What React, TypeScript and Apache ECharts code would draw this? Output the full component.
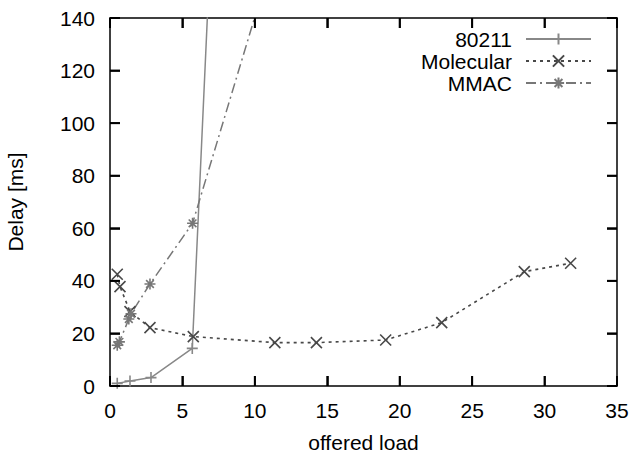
import React, { useEffect, useRef } from "react";
import * as echarts from "echarts";

const seriesNames = ["80211", "Molecular", "MMAC"];

const load80211 = [0.5, 1.38, 2.83, 5.68, 11.4];
const delay80211 = [1.0, 1.9, 3.2, 14.3, 706];

const loadMolecular = [0.5, 0.69, 1.38, 2.76, 5.75, 11.38, 14.25, 19.03, 22.9, 28.6, 31.8];
const delayMolecular = [42.5, 37.8, 28.3, 22.2, 18.8, 16.5, 16.5, 17.5, 24.1, 43.5, 46.7];

const loadMMAC = [0.5, 0.65, 1.3, 1.45, 2.76, 5.7, 11.4];
const delayMMAC = [15.5, 16.8, 25.5, 27.5, 38.8, 61.9, 166];

const xMin = 0, xMax = 35, xStep = 5;
const yMin = 0, yMax = 140, yStep = 20;
const xTicks = [0, 5, 10, 15, 20, 25, 30, 35];
const yTicks = [0, 20, 40, 60, 80, 100, 120, 140];

const FONT = "'Liberation Sans', Arial, Helvetica, sans-serif";
const FS = 21;
const TICK_LEN = 10;
const TICK_W = 2;

const PLUS = "path://M0,-10 L0,10 M-10,0 L10,0";
const CROSS = "path://M-10,-10 L10,10 M-10,10 L10,-10";
const STAR = "path://M0,-10 L0,10 M-10,0 L10,0 M-7,-7 L7,7 M-7,7 L7,-7";
const VTICK = "path://M0,0 L2,0 L2,10 L0,10 Z";
const HTICK = "path://M0,0 L10,0 L10,2 L0,2 Z";

const pairs = (xs: number[], ys: number[]) => xs.map((x, i) => [x, ys[i]]);

export default function App() {
  const ref = useRef<HTMLDivElement>(null);
  useEffect(() => {
    if (!ref.current) return;
    const chart = echarts.init(ref.current, undefined, { renderer: "svg" });
    const axisLine = { show: true, onZero: false, lineStyle: { color: "#000", width: 1.5 } };
    const tick = { show: true, inside: true, length: TICK_LEN, lineStyle: { color: "#000", width: 1.5 } };
    const mk = (name: string, data: number[][], color: string, symbol: string, dash: any, lw: number) => ({
      name,
      type: "line",
      data,
      symbol,
      symbolSize: 11,
      showAllSymbol: true,
      clip: true,
      itemStyle: { color, borderColor: color, borderWidth: 1.6 },
      lineStyle: { color, width: lw, type: dash },
      emphasis: { disabled: true },
    });
    const tickSeries = (name: string, data: number[][], symbol: string, size: number[], offset: number[]) => ({
      name,
      type: "line",
      data,
      symbol,
      symbolSize: size,
      symbolOffset: offset,
      showAllSymbol: true,
      clip: false,
      silent: true,
      z: 5,
      lineStyle: { width: 0, opacity: 0 },
      itemStyle: { color: "#000", borderWidth: 0 },
      emphasis: { disabled: true },
    });
    chart.setOption({
      animation: false,
      backgroundColor: "#fff",
      textStyle: { fontFamily: FONT },
      grid: { left: 110, right: 18, top: 18, bottom: 68, containLabel: false, outerBoundsMode: "none" },
      legend: {
        orient: "vertical",
        align: "right",
        right: 43,
        top: 28,
        padding: 0,
        itemWidth: 65,
        itemHeight: 14,
        itemGap: 0,
        data: seriesNames,
        textStyle: { fontSize: FS, lineHeight: 22, color: "#000", fontFamily: FONT, padding: [0, 9, 0, 0] },
      },
      xAxis: [
        {
          type: "value",
          min: xMin,
          max: xMax,
          interval: xStep,
          name: "offered load",
          nameLocation: "middle",
          nameGap: 46,
          nameTextStyle: { fontSize: FS, color: "#000", fontFamily: FONT },
          axisLine,
          axisTick: tick,
          axisLabel: { fontSize: FS, color: "#000", margin: 14, fontFamily: FONT },
          splitLine: { show: false },
        },
        {
          type: "value",
          position: "top",
          min: xMin,
          max: xMax,
          interval: xStep,
          axisLine,
          axisTick: tick,
          axisLabel: { show: false },
          splitLine: { show: false },
        },
      ],
      yAxis: [
        {
          type: "value",
          min: yMin,
          max: yMax,
          interval: yStep,
          name: "Delay [ms]",
          nameLocation: "middle",
          nameGap: 84,
          nameTextStyle: { fontSize: FS, color: "#000", fontFamily: FONT },
          axisLine,
          axisTick: tick,
          axisLabel: { fontSize: FS, color: "#000", margin: 15, fontFamily: FONT },
          splitLine: { show: false },
        },
        {
          type: "value",
          position: "right",
          min: yMin,
          max: yMax,
          interval: yStep,
          axisLine,
          axisTick: tick,
          axisLabel: { show: false },
          splitLine: { show: false },
        },
      ],
      series: [
        mk(seriesNames[0], pairs(load80211, delay80211), "#888888", PLUS, "solid", 1.5),
        mk(seriesNames[1], pairs(loadMolecular, delayMolecular), "#484848", CROSS, [3, 4], 1.6),
        mk(seriesNames[2], pairs(loadMMAC, delayMMAC), "#777777", STAR, [10, 4, 2, 4], 1.5),
        tickSeries("tickBottom", xTicks.map((v) => [v, yMin]), VTICK, [TICK_W, TICK_LEN], [0, -TICK_LEN / 2]),
        tickSeries("tickTop", xTicks.map((v) => [v, yMax]), VTICK, [TICK_W, TICK_LEN], [0, TICK_LEN / 2]),
        tickSeries("tickLeft", yTicks.map((v) => [xMin, v]), HTICK, [TICK_LEN, TICK_W], [TICK_LEN / 2, 0]),
        tickSeries("tickRight", yTicks.map((v) => [xMax, v]), HTICK, [TICK_LEN, TICK_W], [-TICK_LEN / 2, 0]),
      ],
    });

    return () => chart.dispose();
  }, []);
  return <div ref={ref} style={{ position: "fixed", left: 0, top: 0, width: 635, height: 454 }} />;
}
